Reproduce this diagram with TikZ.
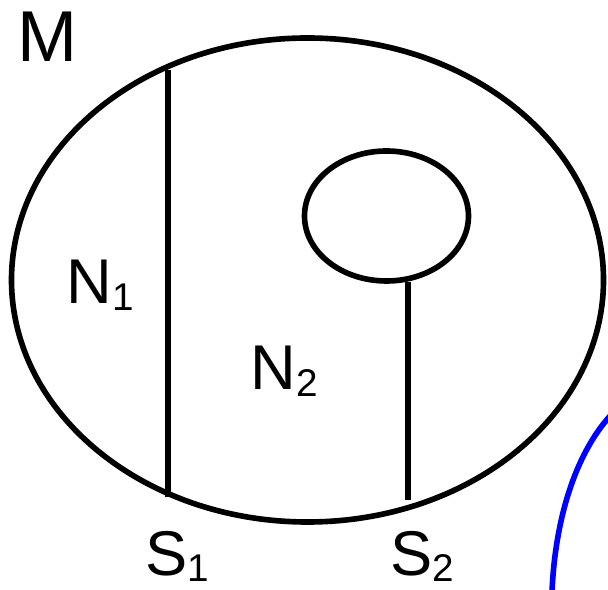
\documentclass[tikz,border=0pt]{standalone}
\usepackage{fontspec}
\setmainfont{Liberation Sans}
\newcommand{\lbl}[2]{#1\raisebox{-0.1em}{\fontsize{22pt}{22pt}\selectfont #2}}
\tikzset{
  stroke/.style={line width=3.2pt, black},
  lab/.style={inner sep=0pt, anchor=base west, font=\fontsize{36pt}{36pt}\selectfont},
}
\begin{document}
\begin{tikzpicture}[x=0.02cm, y=-0.02cm]
\useasboundingbox (0,0) rectangle (608,590);
\draw[stroke] (307.5,280) ellipse [x radius=296, y radius=242];
\draw[stroke] (386.5,216) ellipse [x radius=82, y radius=65];
\coordinate (a1) at (168,70);
\coordinate (a2) at (168,497);
\coordinate (b1) at (408,282);
\coordinate (b2) at (408,500);
\draw[stroke] (a1) -- (a2);
\draw[stroke] (b1) -- (b2);
\coordinate (c1) at (552,592);
\coordinate (c2) at (610,416);
\draw[line width=3.2pt, blue] (c1) .. controls (555,520) and (575,455) .. (c2);
\node[lab, font=\fontsize{41pt}{41pt}\selectfont] (M) at (17,62) {M};
\node[lab] (N1) at (66,304) {\lbl{N}{1}};
\node[lab] (N2) at (250,390) {\lbl{N}{2}};
\node[lab] (S1) at (145,575) {\lbl{S}{1}};
\node[lab] (S2) at (390,575) {\lbl{S}{2}};
\end{tikzpicture}
\end{document}
